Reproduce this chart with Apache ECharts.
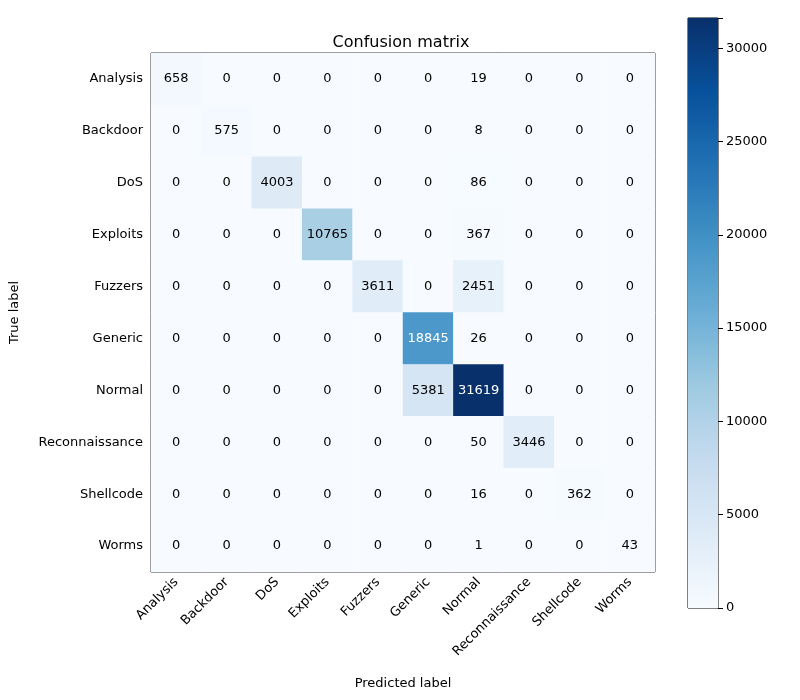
<!DOCTYPE html>
<html><head><meta charset="utf-8">
<script src="https://cdn.jsdelivr.net/npm/echarts@6/dist/echarts.min.js"></script>
<style>html,body{margin:0;padding:0;background:#fff}#c{width:800px;height:700px}</style>
</head><body><div id="c"></div>
<script>
const labels = ["Analysis","Backdoor","DoS","Exploits","Fuzzers","Generic","Normal","Reconnaissance","Shellcode","Worms"];
const matrix = [
 [658,0,0,0,0,0,19,0,0,0],
 [0,575,0,0,0,0,8,0,0,0],
 [0,0,4003,0,0,0,86,0,0,0],
 [0,0,0,10765,0,0,367,0,0,0],
 [0,0,0,0,3611,0,2451,0,0,0],
 [0,0,0,0,0,18845,26,0,0,0],
 [0,0,0,0,0,5381,31619,0,0,0],
 [0,0,0,0,0,0,50,3446,0,0],
 [0,0,0,0,0,0,16,0,362,0],
 [0,0,0,0,0,0,1,0,0,43]
];
const colorbarTicks = [0,5000,10000,15000,20000,25000,30000];
const blues = ['#f7fbff','#deebf7','#c6dbef','#9ecae1','#6baed6','#4292c6','#2171b5','#08519c','#08306b'];
let maxV = 0; const data = [];
matrix.forEach((row,i)=>row.forEach((v,j)=>{data.push([j,i,v]); if(v>maxV)maxV=v;}));
const font = 'DejaVu Sans';
const chart = echarts.init(document.getElementById('c'));
chart.setOption({
  animation:false,
  textStyle:{fontFamily:font},
  title:{text:'Confusion matrix',left:396,top:30,textAlign:'center',textStyle:{fontFamily:font,fontSize:16,fontWeight:'normal',color:'#000'}},
  grid:[{left:137,right:145,top:53,bottom:128,show:true,borderColor:'#000',borderWidth:1,backgroundColor:'transparent'},
        {left:688,width:30,top:18,bottom:92,show:true,borderColor:'#000',borderWidth:1}],
  visualMap:{show:false,min:0,max:maxV,seriesIndex:0,inRange:{color:blues}},
  xAxis:[{type:'category',data:labels,gridIndex:0,name:'Predicted label',nameLocation:'middle',nameGap:105,
          nameTextStyle:{fontSize:13,color:'#000'},
          axisLine:{show:false},axisTick:{alignWithLabel:true,length:5,lineStyle:{color:'#000'}},
          axisLabel:{rotate:45,fontSize:13,color:'#000',margin:8},splitLine:{show:false}},
         {type:'category',data:['c'],gridIndex:1,show:false}],
  yAxis:[{type:'category',data:labels,gridIndex:0,inverse:true,name:'True label',nameLocation:'middle',nameGap:130,
          nameTextStyle:{fontSize:13,color:'#000'},
          axisLine:{show:false},axisTick:{alignWithLabel:true,length:5,lineStyle:{color:'#000'}},
          axisLabel:{fontSize:13,color:'#000'},splitLine:{show:false}},
         {type:'value',gridIndex:1,position:'right',min:0,max:maxV,interval:5000,
          axisLine:{show:false},axisTick:{show:true,length:5,lineStyle:{color:'#000'}},
          axisLabel:{fontSize:13,color:'#000',formatter:v=>colorbarTicks.includes(v)?String(v):''},splitLine:{show:false}}],
  series:[{type:'heatmap',xAxisIndex:0,yAxisIndex:0,data:data,
           label:{show:true,fontSize:13,fontFamily:font,formatter:p=>String(p.value[2]),
                  color:'#000',rich:{}},
           itemStyle:{borderWidth:0}},
          {type:'bar',xAxisIndex:1,yAxisIndex:1,data:[maxV],barWidth:'100%',silent:true,
           itemStyle:{color:new echarts.graphic.LinearGradient(0,1,0,0,blues.map((c,i)=>({offset:i/(blues.length-1),color:c})))}}]
});
// white labels for dark cells
chart.setOption({series:[{data:data.map(d=>({value:d,label:{color:d[2]>maxV/2?'#fff':'#000'}}))}]});
</script></body></html>
